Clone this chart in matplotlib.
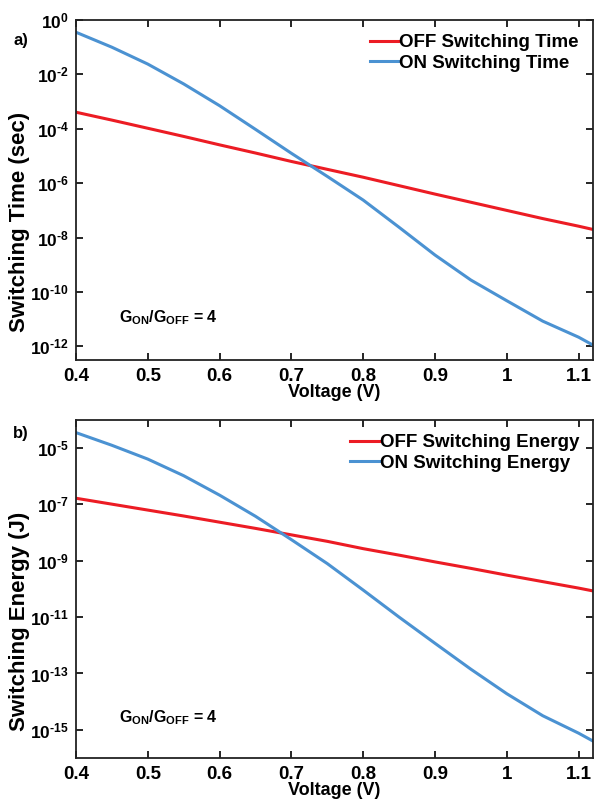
import numpy as np
import matplotlib
matplotlib.use("Agg")
import matplotlib.pyplot as plt
from matplotlib.ticker import FixedLocator, FuncFormatter, NullLocator

plt.rcParams['font.family'] = ['Liberation Sans', 'DejaVu Sans']
plt.rcParams['font.weight'] = 'bold'
plt.rcParams['mathtext.fontset'] = 'custom'
plt.rcParams['mathtext.rm'] = 'Liberation Sans:bold'
plt.rcParams['mathtext.it'] = 'Liberation Sans:bold'
plt.rcParams['mathtext.bf'] = 'Liberation Sans:bold'
plt.rcParams['mathtext.default'] = 'rm'

# ---- data (log10 values) ----
voltage = [0.40, 0.45, 0.50, 0.55, 0.60, 0.65, 0.70, 0.75, 0.80, 0.85, 0.90, 0.95, 1.00, 1.05, 1.10, 1.12]

off_time_log = [-3.39, -3.68, -3.98, -4.28, -4.59, -4.89, -5.20, -5.49, -5.78, -6.09, -6.40, -6.70, -7.00, -7.30, -7.58, -7.70]
on_time_log = [-0.45, -1.00, -1.62, -2.35, -3.15, -4.02, -4.90, -5.75, -6.62, -7.62, -8.64, -9.56, -10.32, -11.07, -11.66, -11.95]

off_energy_log = [-6.78, -6.99, -7.20, -7.41, -7.63, -7.85, -8.08, -8.31, -8.57, -8.80, -9.04, -9.27, -9.51, -9.74, -9.97, -10.07]
on_energy_log = [-4.45, -4.90, -5.39, -5.98, -6.67, -7.42, -8.25, -9.10, -10.04, -11.00, -11.93, -12.85, -13.72, -14.50, -15.12, -15.40]

xticks = [0.4, 0.5, 0.6, 0.7, 0.8, 0.9, 1.0, 1.1]
xtick_labels = ["0.4", "0.5", "0.6", "0.7", "0.8", "0.9", "1", "1.1"]
time_exps = [0, -2, -4, -6, -8, -10, -12]
energy_exps = [-5, -7, -9, -11, -13, -15]

RED = '#ec1c24'
BLUE = '#4b92d2'

fig = plt.figure(figsize=(5.98, 8.06), dpi=100)
ax1 = fig.add_axes([0.127, 0.5533, 0.8646, 0.4219])
ax2 = fig.add_axes([0.127, 0.0596, 0.8646, 0.4194])

def fmt(v, pos):
    e = int(round(np.log10(v)))
    return r'$10^{\text{%d}}$' % e

def style(ax, exps, ylim):
    ax.set_yscale('log')
    ax.set_xlim(0.4, 1.12)
    ax.set_ylim(*ylim)
    ax.xaxis.set_major_locator(FixedLocator(xticks))
    ax.set_xticklabels(xtick_labels)
    ax.yaxis.set_major_locator(FixedLocator([10.0 ** e for e in exps]))
    ax.yaxis.set_major_formatter(FuncFormatter(fmt))
    ax.yaxis.set_minor_locator(NullLocator())
    ax.xaxis.set_minor_locator(NullLocator())
    ax.tick_params(direction='in', top=True, right=True, length=5, width=1.2, pad=6)
    ax.tick_params(axis='x', labelsize=13.5, pad=6)
    ax.tick_params(axis='y', labelsize=12.5, pad=5)
    for lab in ax.get_xticklabels() + ax.get_yticklabels():
        lab.set_fontweight('bold')
    for sp in ax.spines.values():
        sp.set_linewidth(1.3)
        sp.set_color('#222222')
    ax.set_xlabel('Voltage (V)', fontsize=13, fontweight='bold', labelpad=-1)

v = np.array(voltage)
leg_kw = dict(loc='upper right', frameon=False, handlelength=1.5,
              handletextpad=0.05, borderaxespad=0.35, labelspacing=0.2,
              prop={'weight': 'bold', 'size': 13.5})

ax1.plot(v, 10.0 ** np.array(off_time_log), color=RED, lw=2.2, label='OFF Switching Time')
ax1.plot(v, 10.0 ** np.array(on_time_log), color=BLUE, lw=2.2, label='ON Switching Time')
style(ax1, time_exps, (10 ** -12.5, 1.0))
ax1.set_ylabel('Switching Time (sec)', fontsize=16, fontweight='bold')
ax1.yaxis.set_label_coords(-0.088, 0.405)
ax1.legend(**leg_kw)
ax1.text(0.083, 0.11, r'G$_{\mathrm{ON}}$/G$_{\mathrm{OFF}}$ = 4', transform=ax1.transAxes,
         fontsize=11.5, fontweight='bold')
fig.text(0.022, 0.944, 'a)', fontsize=12, fontweight='bold')

ax2.plot(v, 10.0 ** np.array(off_energy_log), color=RED, lw=2.2, label='OFF Switching Energy')
ax2.plot(v, 10.0 ** np.array(on_energy_log), color=BLUE, lw=2.2, label='ON Switching Energy')
style(ax2, energy_exps, (1e-16, 1e-4))
ax2.set_ylabel('Switching Energy (J)', fontsize=16, fontweight='bold')
ax2.yaxis.set_label_coords(-0.088, 0.404)
ax2.legend(**leg_kw)
ax2.text(0.083, 0.105, r'G$_{\mathrm{ON}}$/G$_{\mathrm{OFF}}$ = 4', transform=ax2.transAxes,
         fontsize=11.5, fontweight='bold')
fig.text(0.022, 0.457, 'b)', fontsize=12, fontweight='bold')

fig.savefig('out.png', dpi=100)
